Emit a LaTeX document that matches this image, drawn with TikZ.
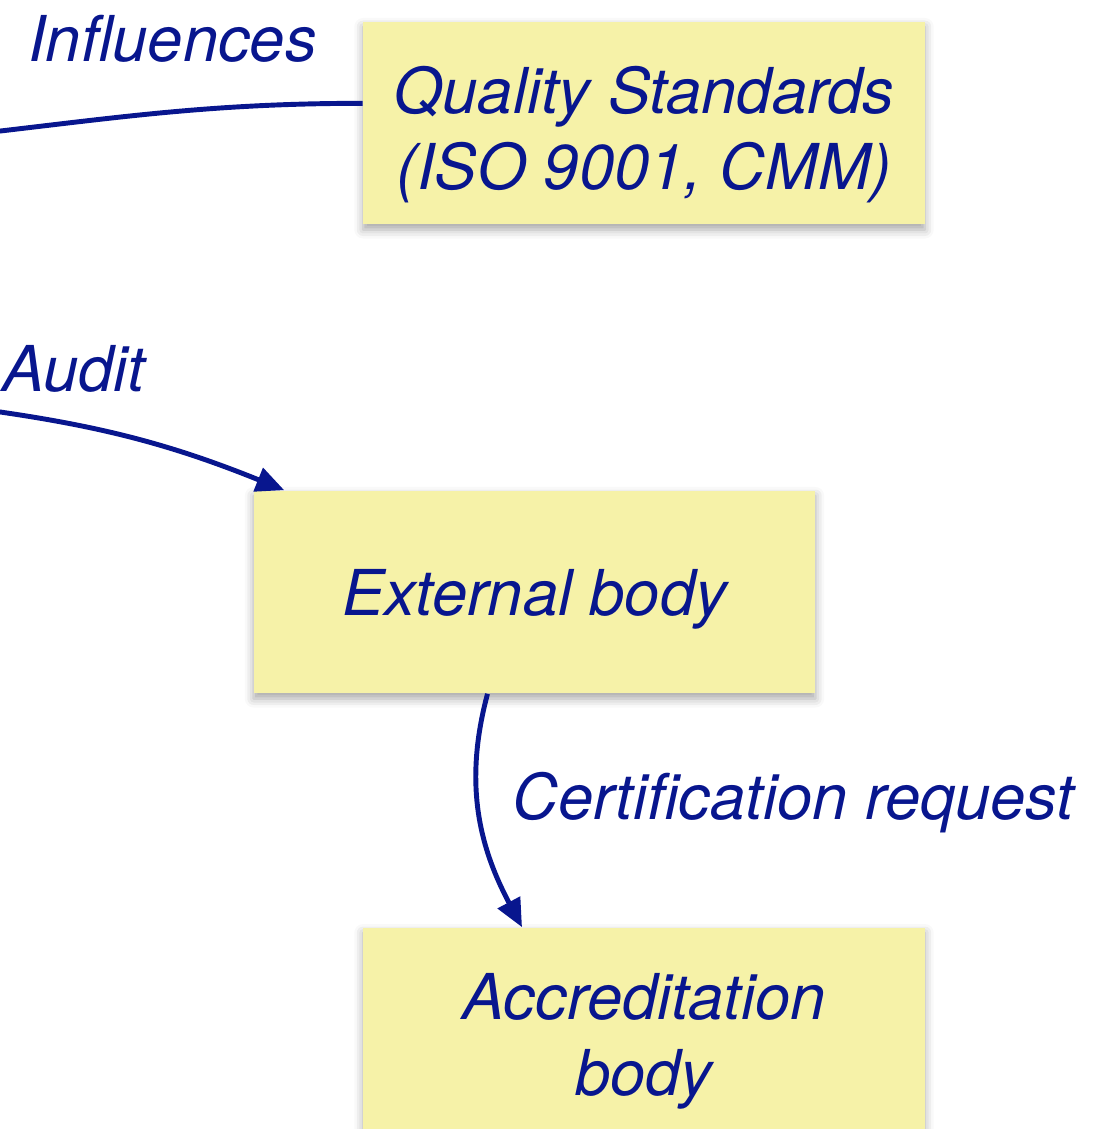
\documentclass[tikz,border=0pt]{standalone}
\usepackage{fontspec}
\setmainfont{TeX Gyre Heros}
\usepackage{tikz}
\usetikzlibrary{positioning,calc,arrows.meta,shadows.blur}
\definecolor{navy}{RGB}{8,22,142}
\definecolor{sticky}{RGB}{246,242,168}
\newcommand\lift[1]{\rule{0pt}{#1}}
\tikzset{box/.style={fill=sticky,text=navy,inner sep=0pt,minimum width=11.24cm,minimum height=4.06cm,
    align=center,font=\itshape\fontsize{36}{43}\selectfont,
    blur shadow={shadow xshift=0pt,shadow yshift=-3pt,shadow blur radius=5pt,shadow opacity=35}}}
\tikzset{lbl/.style={text=navy,inner sep=0pt,anchor=base west,font=\itshape\fontsize{36}{43}\selectfont}}
\tikzset{link/.style={draw=navy,line width=2.8pt,-{Triangle[length=16pt,width=14pt]}}}
\tikzset{plain/.style={draw=navy,line width=2.8pt}}

\begin{document}
\begin{tikzpicture}[x=0.02cm,y=0.02cm]
  \useasboundingbox (0,0) rectangle (1118,1129);
  \node[box] (qs) at (644,1006) {\lift{40pt}Quality Standards\\(ISO 9001, CMM)};
  \node[box] (ext) at (534.5,537) {\lift{35pt}External body};
  \node[box] (acc) at (644,100) {\lift{40pt}Accreditation\\body};

  \coordinate (inflend) at (-80,989);
  \coordinate (auditend) at (-60,725);

  \node[lbl] (infl) at (28,1067) {Influences};
  \node[lbl] (audit) at (2,737) {Audit};
  \node[lbl] (cert) at (512,309) {Certification request};

  \draw[plain] (qs.176.7) to[out=180,in=6] (inflend);
  \draw[link] (auditend) to[out=-7,in=158] ($(ext.north west)+(31,0)$);
  \draw[link] ($(ext.south)+(-47,0)$) to[out=-105,in=118] ($(acc.north)+(-122,0)$);
\end{tikzpicture}
\end{document}
